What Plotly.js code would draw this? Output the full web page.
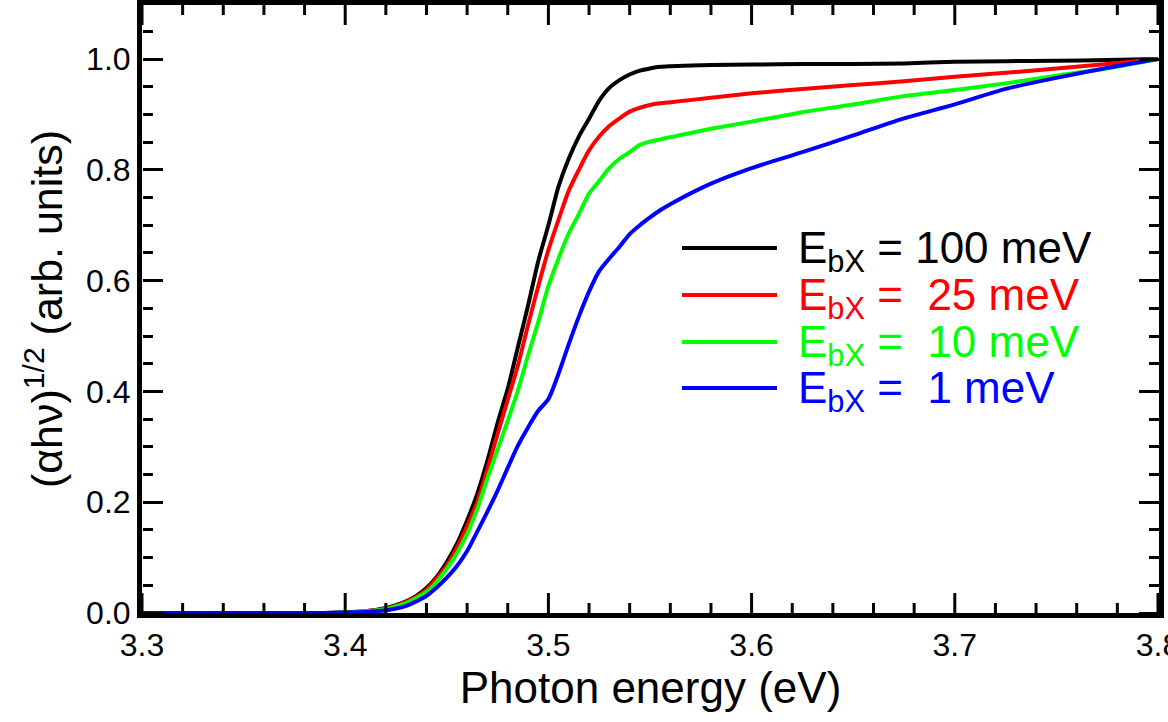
<!DOCTYPE html>
<html>
<head>
<meta charset="utf-8">
<script src="https://cdn.plot.ly/plotly-3.0.1.min.js"></script>
<style>html,body{margin:0;padding:0;background:#fff;}#chart{width:1168px;height:722px;}</style>
</head>
<body>
<div id="chart"></div>
<script>
// Photon energy grid (eV)
const energy = [3.30, 3.35, 3.39, 3.40, 3.41, 3.42, 3.425, 3.43, 3.435, 3.44, 3.445, 3.45, 3.455, 3.46, 3.465, 3.47, 3.475, 3.48, 3.485, 3.49, 3.495, 3.50, 3.505, 3.51, 3.515, 3.52, 3.525, 3.53, 3.535, 3.54, 3.545, 3.55, 3.555, 3.56, 3.58, 3.60, 3.625, 3.65, 3.675, 3.70, 3.725, 3.75, 3.775, 3.80];

// (alpha h nu)^(1/2), arb. units
const ebx100 = [0, 0, 0, 0.001, 0.003, 0.009, 0.014, 0.021, 0.031, 0.045, 0.065, 0.092, 0.125, 0.167, 0.215, 0.275, 0.343, 0.405, 0.48, 0.555, 0.635, 0.70, 0.77, 0.82, 0.86, 0.892, 0.925, 0.948, 0.962, 0.972, 0.979, 0.983, 0.986, 0.987, 0.989, 0.990, 0.991, 0.991, 0.992, 0.995, 0.996, 0.997, 0.998, 1.0];
const ebx25 = [0, 0, 0, 0.001, 0.003, 0.008, 0.013, 0.020, 0.029, 0.042, 0.062, 0.086, 0.118, 0.157, 0.20, 0.26, 0.323, 0.385, 0.447, 0.52, 0.59, 0.655, 0.71, 0.762, 0.80, 0.835, 0.86, 0.879, 0.893, 0.905, 0.912, 0.917, 0.92, 0.922, 0.93, 0.938, 0.946, 0.953, 0.96, 0.968, 0.975, 0.983, 0.991, 1.0];
const ebx10 = [0, 0, 0, 0.001, 0.003, 0.007, 0.012, 0.018, 0.027, 0.038, 0.056, 0.08, 0.108, 0.143, 0.188, 0.243, 0.295, 0.347, 0.402, 0.465, 0.525, 0.59, 0.64, 0.685, 0.72, 0.757, 0.78, 0.803, 0.82, 0.832, 0.845, 0.851, 0.855, 0.859, 0.874, 0.887, 0.904, 0.918, 0.933, 0.944, 0.956, 0.970, 0.983, 1.0];
const ebx1 = [0, 0, 0, 0.001, 0.002, 0.005, 0.008, 0.013, 0.021, 0.031, 0.046, 0.064, 0.085, 0.112, 0.147, 0.183, 0.221, 0.262, 0.302, 0.335, 0.365, 0.386, 0.432, 0.485, 0.535, 0.58, 0.617, 0.64, 0.661, 0.684, 0.70, 0.714, 0.727, 0.738, 0.775, 0.803, 0.832, 0.862, 0.893, 0.918, 0.946, 0.966, 0.984, 1.0];

const seriesNames = ["E<sub>bX</sub> = 100 meV", "E<sub>bX</sub> =&nbsp; 25 meV", "E<sub>bX</sub> =&nbsp; 10 meV", "E<sub>bX</sub> =&nbsp; 1 meV"];
const seriesData = [ebx100, ebx25, ebx10, ebx1];
const seriesColors = ["#000000", "#ff0000", "#00ff00", "#0000ff"];

// x tick values (major every 0.1 eV, minor every 0.02 eV)
const xMajorTicks = [3.3, 3.4, 3.5, 3.6, 3.7, 3.8];
const xMinorStep = 0.02;

const FONT = "Liberation Sans, Arial, sans-serif";
const L = 142, R = 9, T = 5, B = 109, W = 1168, H = 722;
const pw = W - L - R, ph = H - T - B;
const px = v => (v - L) / pw;          // pixel -> paper x
const py = v => (H - B - v) / ph;      // pixel -> paper y

const X_RANGE = [3.3, 3.8005], Y_RANGE = [0, 1.0975];
const yPerPx = (Y_RANGE[1] - Y_RANGE[0]) / ph;

const traces = seriesData.map((d, i) => ({
  x: energy, y: d, type: 'scatter', mode: 'lines', name: seriesNames[i],
  line: {color: seriesColors[i], width: 4, shape: 'spline', smoothing: 0.7}, showlegend: false
}));

// legend drawn manually
const legendY = [248, 295, 342, 388];
const shapes = [], annotations = [];
legendY.forEach((yy, i) => {
  shapes.push({type: 'line', xref: 'paper', yref: 'paper', x0: px(682), x1: px(777), y0: py(yy), y1: py(yy),
    line: {color: seriesColors[i], width: 4}});
  annotations.push({xref: 'paper', yref: 'paper', x: px(796), y: py(yy + 3), xanchor: 'left', yanchor: 'middle',
    text: seriesNames[i], showarrow: false, font: {family: FONT, size: 44, color: seriesColors[i]}});
});

// inward x ticks on bottom and top edges, placed through the axis scales
function addXTick(v, lenPx) {
  const d = lenPx * yPerPx;
  shapes.push({type: 'line', xref: 'x', yref: 'y', x0: v, x1: v, y0: Y_RANGE[0], y1: Y_RANGE[0] + d,
    line: {color: '#000', width: 3}});
  shapes.push({type: 'line', xref: 'x', yref: 'y', x0: v, x1: v, y0: Y_RANGE[1], y1: Y_RANGE[1] - d,
    line: {color: '#000', width: 3}});
}
const nMinor = Math.round((xMajorTicks[xMajorTicks.length - 1] - xMajorTicks[0]) / xMinorStep);
for (let k = 0; k <= nMinor; k++) {
  const v = +(xMajorTicks[0] + k * xMinorStep).toFixed(3);
  const isMajor = xMajorTicks.some(m => Math.abs(m - v) < 1e-6);
  addXTick(v, isMajor ? 20 : 10);
}

// inward y ticks (outside ticks of free axes placed on the opposite edges)
const tickAxis = {
  ticks: 'outside', ticklen: 20, tickwidth: 3, tickcolor: '#000',
  showticklabels: false, showline: false, showgrid: false, zeroline: false,
  anchor: 'free'
};
const yTickMinor = {dtick: 0.05, tick0: 0, ticks: 'outside', ticklen: 10, tickwidth: 3, tickcolor: '#000', showgrid: false};
const hiddenX = {overlaying: 'x', anchor: 'free', range: X_RANGE, ticks: '', showticklabels: false,
  showline: false, showgrid: false, zeroline: false};

const layout = {
  width: W, height: H,
  margin: {l: L, r: R, t: T, b: B},
  paper_bgcolor: '#ffffff', plot_bgcolor: '#ffffff',
  font: {family: FONT, color: '#000'},
  xaxis: {
    range: X_RANGE, tickmode: 'linear', tick0: 3.3, dtick: 0.1, tickformat: '.1f',
    ticks: '', showline: true, linewidth: 5, linecolor: '#000', mirror: true,
    showgrid: false, zeroline: false, ticklabeloverflow: 'allow',
    tickfont: {family: FONT, size: 32, color: '#000'},
    title: {text: 'Photon energy (eV)', font: {family: FONT, size: 44, color: '#000'}, standoff: 8}
  },
  yaxis: {
    range: Y_RANGE, tickmode: 'linear', tick0: 0, dtick: 0.2, tickformat: '.1f',
    ticks: '', showline: true, linewidth: 5, linecolor: '#000', mirror: true,
    showgrid: false, zeroline: false,
    tickfont: {family: FONT, size: 32, color: '#000'},
    title: {text: '(αhν)<sup>1/2</sup> (arb. units)', font: {family: FONT, size: 43, color: '#000'}, standoff: 12}
  },
  xaxis2: Object.assign({}, hiddenX, {side: 'top', position: 0}),
  xaxis3: Object.assign({}, hiddenX, {side: 'bottom', position: 1}),
  yaxis2: Object.assign({}, tickAxis, {overlaying: 'y', side: 'right', position: 0, range: Y_RANGE,
    tickmode: 'linear', tick0: 0, dtick: 0.2, minor: yTickMinor}),
  yaxis3: Object.assign({}, tickAxis, {overlaying: 'y', side: 'left', position: 1, range: Y_RANGE,
    tickmode: 'linear', tick0: 0, dtick: 0.2, minor: yTickMinor}),
  shapes: shapes,
  annotations: annotations,
  showlegend: false
};

// empty traces so the tick-only axes are created
traces.push({x: [], y: [], xaxis: 'x2', yaxis: 'y2', type: 'scatter', mode: 'lines', showlegend: false, hoverinfo: 'skip'});
traces.push({x: [], y: [], xaxis: 'x3', yaxis: 'y3', type: 'scatter', mode: 'lines', showlegend: false, hoverinfo: 'skip'});

Plotly.newPlot('chart', traces, layout, {displayModeBar: false, staticPlot: true});
</script>
</body>
</html>
